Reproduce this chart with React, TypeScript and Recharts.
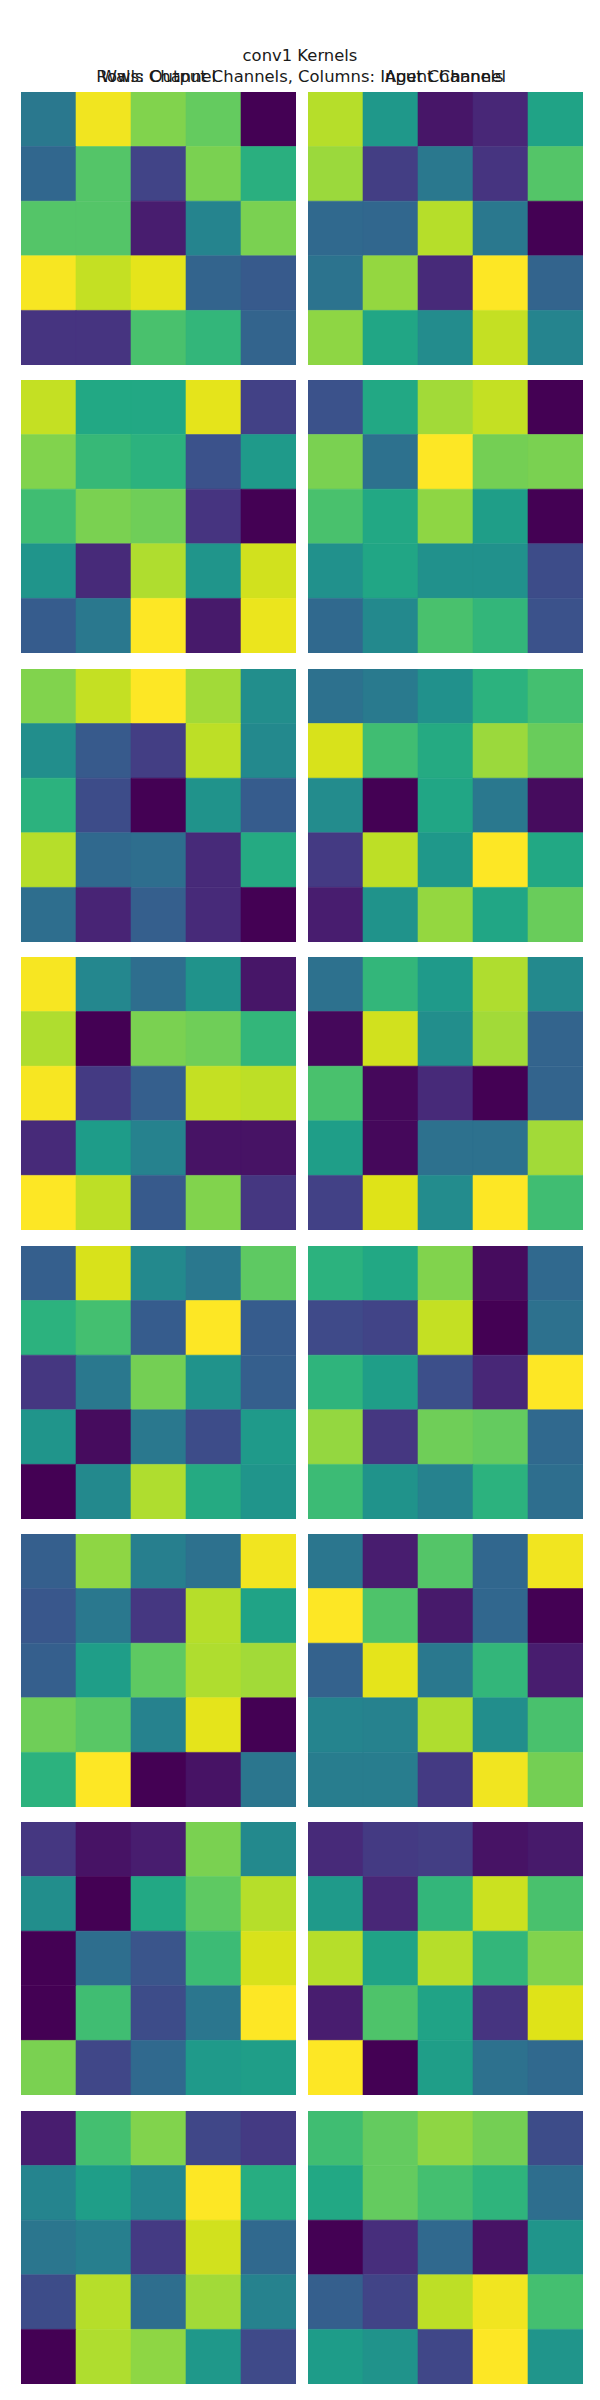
import React from "react";
import { BarChart, Bar, XAxis, YAxis, Cell } from "recharts";

// ---- Data: conv1 kernel weights (normalized 0..1 per kernel), rows x cols ----
const channelNames = ["Walls Channel", "Agent Channel"];
const title = "conv1 Kernels";
const subtitle = "Rows: Output Channels, Columns: Input Channels";

const out0Walls = [
  [0.40, 0.98, 0.81, 0.76, 0.0],
  [0.33, 0.73, 0.20, 0.80, 0.63],
  [0.73, 0.73, 0.08, 0.45, 0.80],
  [0.99, 0.91, 0.96, 0.32, 0.28],
  [0.15, 0.15, 0.71, 0.66, 0.32],
];
const out0Agent = [
  [0.89, 0.53, 0.06, 0.11, 0.58],
  [0.85, 0.18, 0.40, 0.15, 0.73],
  [0.34, 0.33, 0.89, 0.40, 0.0],
  [0.38, 0.84, 0.12, 1.0, 0.32],
  [0.83, 0.59, 0.48, 0.91, 0.45],
];
const out1Walls = [
  [0.91, 0.60, 0.60, 0.96, 0.19],
  [0.81, 0.67, 0.64, 0.25, 0.54],
  [0.69, 0.80, 0.78, 0.15, 0.0],
  [0.52, 0.12, 0.88, 0.52, 0.93],
  [0.29, 0.40, 1.0, 0.07, 0.97],
];
const out1Agent = [
  [0.25, 0.60, 0.86, 0.91, 0.0],
  [0.80, 0.37, 1.0, 0.79, 0.80],
  [0.71, 0.60, 0.83, 0.56, 0.0],
  [0.50, 0.59, 0.50, 0.50, 0.23],
  [0.34, 0.47, 0.71, 0.66, 0.25],
];
const out2Walls = [
  [0.81, 0.91, 1.0, 0.86, 0.49],
  [0.49, 0.28, 0.18, 0.90, 0.47],
  [0.64, 0.23, 0.0, 0.51, 0.29],
  [0.89, 0.34, 0.36, 0.12, 0.61],
  [0.36, 0.10, 0.30, 0.12, 0.0],
];
const out2Agent = [
  [0.37, 0.41, 0.50, 0.64, 0.70],
  [0.94, 0.69, 0.61, 0.85, 0.77],
  [0.48, 0.0, 0.59, 0.40, 0.03],
  [0.17, 0.90, 0.53, 1.0, 0.60],
  [0.08, 0.51, 0.84, 0.59, 0.77],
];
const out3Walls = [
  [0.99, 0.46, 0.36, 0.51, 0.06],
  [0.88, 0.0, 0.80, 0.78, 0.66],
  [0.99, 0.17, 0.30, 0.91, 0.90],
  [0.12, 0.55, 0.44, 0.05, 0.05],
  [1.0, 0.90, 0.28, 0.81, 0.16],
];
const out3Agent = [
  [0.37, 0.66, 0.54, 0.88, 0.47],
  [0.02, 0.93, 0.49, 0.86, 0.32],
  [0.71, 0.02, 0.12, 0.0, 0.32],
  [0.56, 0.02, 0.37, 0.37, 0.86],
  [0.19, 0.95, 0.48, 1.0, 0.69],
];
const out4Walls = [
  [0.30, 0.94, 0.47, 0.40, 0.75],
  [0.64, 0.70, 0.29, 1.0, 0.29],
  [0.16, 0.40, 0.79, 0.51, 0.30],
  [0.52, 0.03, 0.40, 0.23, 0.54],
  [0.0, 0.47, 0.88, 0.61, 0.52],
];
const out4Agent = [
  [0.64, 0.60, 0.81, 0.03, 0.34],
  [0.22, 0.20, 0.91, 0.0, 0.37],
  [0.65, 0.56, 0.24, 0.11, 1.0],
  [0.84, 0.16, 0.78, 0.76, 0.34],
  [0.68, 0.51, 0.44, 0.64, 0.36],
];
const out5Walls = [
  [0.30, 0.83, 0.43, 0.37, 0.98],
  [0.27, 0.40, 0.16, 0.89, 0.58],
  [0.30, 0.56, 0.75, 0.88, 0.86],
  [0.78, 0.74, 0.44, 0.96, 0.0],
  [0.64, 1.0, 0.0, 0.05, 0.39],
];
const out5Agent = [
  [0.39, 0.08, 0.73, 0.33, 0.98],
  [1.0, 0.72, 0.07, 0.33, 0.0],
  [0.31, 0.96, 0.40, 0.66, 0.08],
  [0.45, 0.44, 0.88, 0.49, 0.71],
  [0.42, 0.42, 0.17, 0.98, 0.79],
];
const out6Walls = [
  [0.16, 0.05, 0.08, 0.80, 0.47],
  [0.49, 0.0, 0.60, 0.75, 0.89],
  [0.0, 0.36, 0.26, 0.68, 0.94],
  [0.0, 0.69, 0.23, 0.39, 1.0],
  [0.80, 0.21, 0.34, 0.54, 0.56],
];
const out6Agent = [
  [0.12, 0.17, 0.18, 0.05, 0.07],
  [0.54, 0.11, 0.66, 0.92, 0.71],
  [0.89, 0.58, 0.89, 0.66, 0.81],
  [0.08, 0.72, 0.58, 0.15, 0.95],
  [1.0, 0.0, 0.56, 0.37, 0.34],
];
const out7Walls = [
  [0.08, 0.70, 0.81, 0.21, 0.17],
  [0.45, 0.56, 0.46, 1.0, 0.62],
  [0.39, 0.43, 0.17, 0.93, 0.34],
  [0.23, 0.89, 0.36, 0.86, 0.44],
  [0.0, 0.88, 0.83, 0.53, 0.22],
];
const out7Agent = [
  [0.69, 0.76, 0.83, 0.79, 0.23],
  [0.60, 0.76, 0.70, 0.65, 0.36],
  [0.0, 0.13, 0.34, 0.05, 0.52],
  [0.30, 0.20, 0.90, 0.98, 0.70],
  [0.55, 0.51, 0.21, 1.0, 0.52],
];

const kernels = [
  [out0Walls, out0Agent],
  [out1Walls, out1Agent],
  [out2Walls, out2Agent],
  [out3Walls, out3Agent],
  [out4Walls, out4Agent],
  [out5Walls, out5Agent],
  [out6Walls, out6Agent],
  [out7Walls, out7Agent],
];

// ---- viridis colormap ----
const VIRIDIS = [
  "#440154", "#471365", "#482475", "#463480", "#414487", "#3b528b", "#355f8d",
  "#2f6c8e", "#2a788e", "#25848e", "#21918c", "#1e9c89", "#22a884", "#2fb47c",
  "#44bf70", "#5ec962", "#7ad151", "#9bd93c", "#bddf26", "#dfe318", "#fde725",
];
function hexToRgb(h: string) {
  return [parseInt(h.slice(1, 3), 16), parseInt(h.slice(3, 5), 16), parseInt(h.slice(5, 7), 16)];
}
function viridis(v: number) {
  const t = Math.max(0, Math.min(1, v)) * (VIRIDIS.length - 1);
  const i = Math.min(Math.floor(t), VIRIDIS.length - 2);
  const f = t - i;
  const a = hexToRgb(VIRIDIS[i]);
  const b = hexToRgb(VIRIDIS[i + 1]);
  const c = a.map((x, k) => Math.round(x + (b[k] - x) * f));
  return `rgb(${c[0]},${c[1]},${c[2]})`;
}

const ROWS = [0, 1, 2, 3, 4];
const COLS = [0, 1, 2, 3, 4];

const PANEL_W = 275;
const PANEL_H = 273;
const LEFT_X = [13, 300];
const TOP0 = 84;
const PITCH = 288.4;

function Kernel({ grid }: { grid: number[][] }) {
  const data = COLS.map((c) => {
    const d: Record<string, number> = { col: c };
    ROWS.forEach((r) => (d["r" + r] = 1));
    return d;
  });
  return (
    <BarChart
      width={PANEL_W}
      height={PANEL_H}
      data={data}
      margin={{ top: 0, right: 0, bottom: 0, left: 0 }}
      barCategoryGap={0}
      barGap={0}
    >
      <XAxis dataKey="col" hide />
      <YAxis type="number" domain={[0, 5]} reversed hide />
      {ROWS.map((r) => (
        <Bar key={r} dataKey={"r" + r} stackId="k" isAnimationActive={false}>
          {COLS.map((c) => {
            const col = viridis(grid[r][c]);
            return <Cell key={c} fill={col} stroke={col} strokeWidth={0.6} />;
          })}
        </Bar>
      ))}
    </BarChart>
  );
}

export default function App() {
  const font = "'DejaVu Sans', sans-serif";
  return (
    <div style={{ position: "relative", width: 584, height: 2384, background: "#fff" }}>
      <svg width={584} height={90} style={{ position: "absolute", left: 0, top: 0 }}>
        <g fontFamily={font} fontSize={16.4} fill="#1a1a1a" textAnchor="middle">
          <text x={292} y={53}>{title}</text>
          <text x={292} y={74}>{subtitle}</text>
          <text x={LEFT_X[0] + PANEL_W / 2} y={74}>{channelNames[0]}</text>
          <text x={LEFT_X[1] + PANEL_W / 2} y={74}>{channelNames[1]}</text>
        </g>
      </svg>
      {kernels.map((pair, i) =>
        pair.map((grid, j) => (
          <div
            key={i + "-" + j}
            style={{ position: "absolute", left: LEFT_X[j], top: TOP0 + i * PITCH }}
          >
            <Kernel grid={grid} />
          </div>
        ))
      )}
    </div>
  );
}
